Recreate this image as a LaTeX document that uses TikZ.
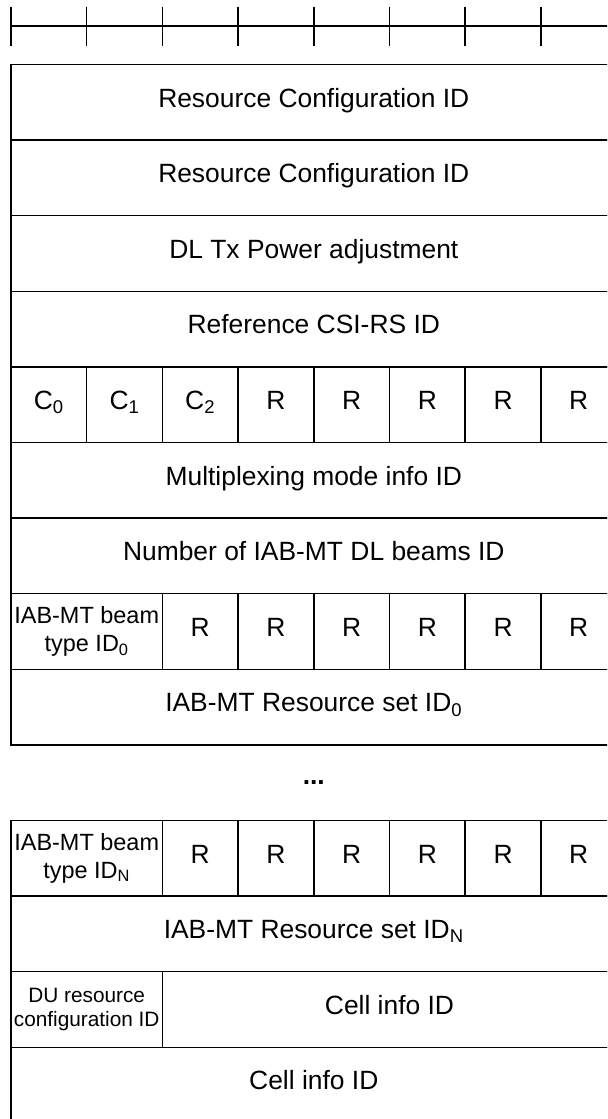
\documentclass[tikz,border=0pt]{standalone}
\usepackage{fontspec}
\setmainfont{Liberation Sans}
\begin{document}
\begin{tikzpicture}[x=0.75pt,y=-0.75pt,line width=1.1pt,
  cell/.style={draw,inner sep=0pt,minimum height=56.7pt,align=center,
    font=\fontsize{19.8}{22}\selectfont},
  one/.style={text height=0.72em,text depth=0pt},
  wa/.style={minimum width=56.775pt},
  wb/.style={minimum width=113.55pt},
  wf/.style={minimum width=340.65pt},
  wh/.style={minimum width=454.2pt},
  smalltxt/.style={font=\fontsize{17.6}{21}\selectfont},
  tinytxt/.style={font=\fontsize{15.6}{18.5}\selectfont}]
\useasboundingbox (0,0) rectangle (607,1119);
\clip (0,0) rectangle (607,1119);
% ruler
\coordinate (rl) at (11,26);
\coordinate (rr) at (640,26);
\draw (rl) -- (rr);
\foreach \k in {0,...,8} \draw (11+75.7*\k,6.7) -- (11+75.7*\k,45.7);
% first block
\node[cell,wh,one] (n0) at (313.8,64.5+75.6*0.5) {Resource Configuration ID};
\node[cell,wh,one] (n1) at (313.8,64.5+75.6*1.5) {Resource Configuration ID};
\node[cell,wh,one] (n2) at (313.8,64.5+75.6*2.5) {DL Tx Power adjustment};
\node[cell,wh,one] (n3) at (313.8,64.5+75.6*3.5) {Reference CSI-RS ID};
\node[cell,wa,one] (c0) at (11+75.7*0.5,64.5+75.6*4.5) {C\textsubscript{0}};
\node[cell,wa,one] (c1) at (11+75.7*1.5,64.5+75.6*4.5) {C\textsubscript{1}};
\node[cell,wa,one] (c2) at (11+75.7*2.5,64.5+75.6*4.5) {C\textsubscript{2}};
\node[cell,wa,one] (c3) at (11+75.7*3.5,64.5+75.6*4.5) {R};
\node[cell,wa,one] (c4) at (11+75.7*4.5,64.5+75.6*4.5) {R};
\node[cell,wa,one] (c5) at (11+75.7*5.5,64.5+75.6*4.5) {R};
\node[cell,wa,one] (c6) at (11+75.7*6.5,64.5+75.6*4.5) {R};
\node[cell,wa,one] (c7) at (11+75.7*7.5,64.5+75.6*4.5) {R};
\node[cell,wh,one] (n5) at (313.8,64.5+75.6*5.5) {Multiplexing mode info ID};
\node[cell,wh,one] (n6) at (313.8,64.5+75.6*6.5) {Number of IAB-MT DL beams ID};
\node[cell,wb,smalltxt] (b0) at (11+75.7,64.5+75.6*7.5) {IAB-MT beam\\type ID\textsubscript{0}};
\node[cell,wa,one] (b2) at (11+75.7*2.5,64.5+75.6*7.5) {R};
\node[cell,wa,one] (b3) at (11+75.7*3.5,64.5+75.6*7.5) {R};
\node[cell,wa,one] (b4) at (11+75.7*4.5,64.5+75.6*7.5) {R};
\node[cell,wa,one] (b5) at (11+75.7*5.5,64.5+75.6*7.5) {R};
\node[cell,wa,one] (b6) at (11+75.7*6.5,64.5+75.6*7.5) {R};
\node[cell,wa,one] (b7) at (11+75.7*7.5,64.5+75.6*7.5) {R};
\node[cell,wh,one] (n8) at (313.8,64.5+75.6*8.5) {IAB-MT Resource set ID\textsubscript{0}};
% ellipsis
\node[font=\fontsize{19.8}{22}\selectfont\bfseries] (dots) at (313.8,64.5+75.6*9.5) {...};
% second block
\node[cell,wb,smalltxt] (m0) at (11+75.7,64.5+75.6*10.5) {IAB-MT beam\\type ID\textsubscript{N}};
\node[cell,wa,one] (m2) at (11+75.7*2.5,64.5+75.6*10.5) {R};
\node[cell,wa,one] (m3) at (11+75.7*3.5,64.5+75.6*10.5) {R};
\node[cell,wa,one] (m4) at (11+75.7*4.5,64.5+75.6*10.5) {R};
\node[cell,wa,one] (m5) at (11+75.7*5.5,64.5+75.6*10.5) {R};
\node[cell,wa,one] (m6) at (11+75.7*6.5,64.5+75.6*10.5) {R};
\node[cell,wa,one] (m7) at (11+75.7*7.5,64.5+75.6*10.5) {R};
\node[cell,wh,one] (n11) at (313.8,64.5+75.6*11.5) {IAB-MT Resource set ID\textsubscript{N}};
\node[cell,wb,tinytxt] (du) at (11+75.7,64.5+75.6*12.5) {DU resource\\configuration ID};
\node[cell,wf,one] (ci) at (11+75.7*5,64.5+75.6*12.5) {Cell info ID};
\node[cell,wh,one] (n13) at (313.8,64.5+75.6*13.5) {Cell info ID};
\end{tikzpicture}
\end{document}
